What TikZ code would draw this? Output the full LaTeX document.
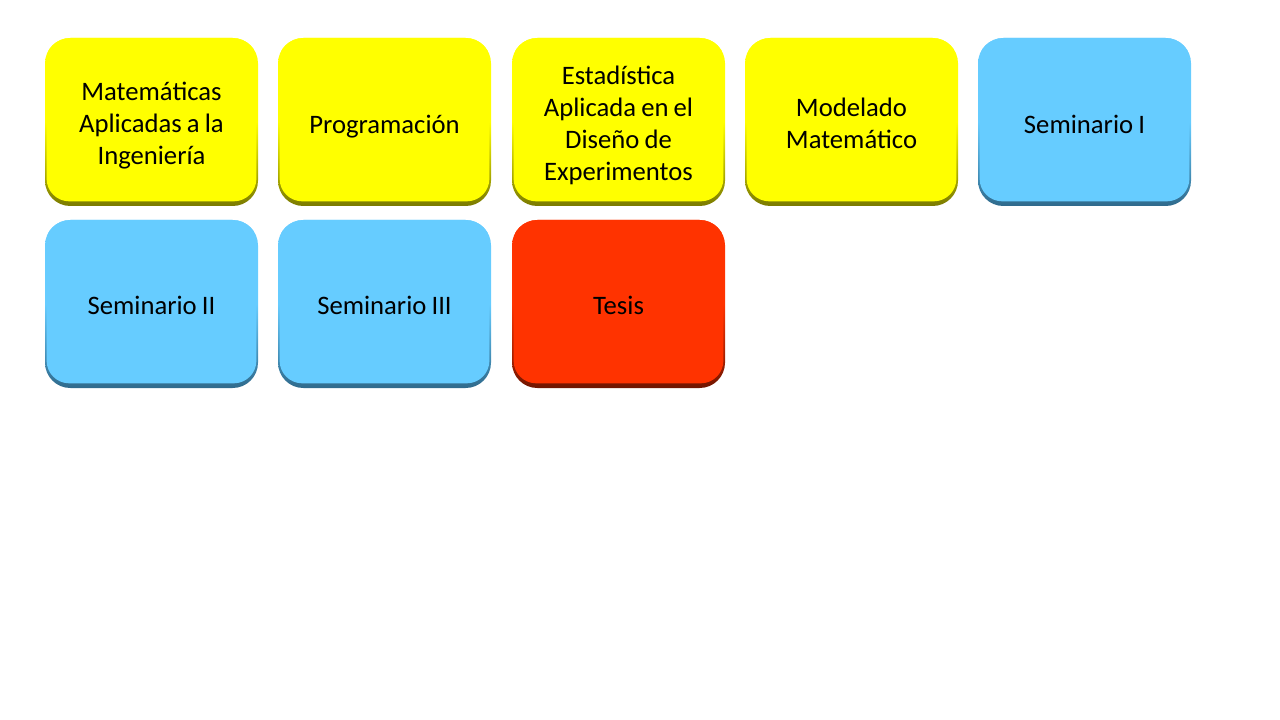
\documentclass[tikz,border=0pt]{standalone}
\usepackage{fontspec}
\setmainfont{Carlito}[WordSpace=0.85]
\definecolor{yel}{HTML}{FFFF00}
\definecolor{yeld}{HTML}{7A7A00}
\definecolor{blu}{HTML}{66CCFF}
\definecolor{blud}{HTML}{2F6A8C}
\definecolor{rd}{HTML}{FF3300}
\definecolor{rdd}{HTML}{701500}
\tikzset{
  bx/.style 2 args={rectangle, rounded corners=19pt, minimum width=159.75pt, minimum height=126pt,
    top color=#1, bottom color=#2, middle color=#1, shading angle=0,
    path picture={\fill[#1, rounded corners=17pt] ([xshift=1.2pt,yshift=1pt]path picture bounding box.north west) rectangle ([xshift=-1.2pt,yshift=3.5pt]path picture bounding box.south east);}},
  ybox/.style={bx={yel}{yeld}},
  bbox/.style={bx={blu}{blud}},
  rbox/.style={bx={rd}{rdd}},
  lab/.style={align=center, font=\fontsize{20}{24}\selectfont, text=black, inner sep=0pt}
}
\begin{document}
\begin{tikzpicture}[x=0.75pt,y=-0.75pt]
\useasboundingbox (0,0) rectangle (1280,720);
\node[ybox] (mat) at (151.5,122) {};
\node[ybox] (prog) at (384.5,122) {};
\node[ybox] (est) at (618.5,122) {};
\node[ybox] (mod) at (851.5,122) {};
\node[bbox] (s1) at (1084.5,122) {};
\node[bbox] (s2) at (151.5,304) {};
\node[bbox] (s3) at (384.5,304) {};
\node[rbox] (tes) at (618.5,304) {};
\node[lab] (tmat) at ([yshift=-3pt]mat.center) {Matemáticas\\Aplicadas a la\\Ingeniería};
\node[lab] (tprog) at ([yshift=-3.5pt]prog.center) {Programación};
\node[lab] (test) at ([yshift=-2.3pt]est.center) {Estadística\\Aplicada en el\\Diseño de\\Experimentos};
\node[lab] (tmod) at ([yshift=-0.8pt]mod.center) {Modelado\\Matemático};
\node[lab] (ts1) at ([yshift=-1.5pt]s1.center) {Seminario I};
\node[lab] (ts2) at ([yshift=-0.8pt]s2.center) {Seminario II};
\node[lab] (ts3) at ([yshift=-0.8pt]s3.center) {Seminario III};
\node[lab] (ttes) at ([yshift=-0.8pt]tes.center) {Tesis};
\end{tikzpicture}
\end{document}
